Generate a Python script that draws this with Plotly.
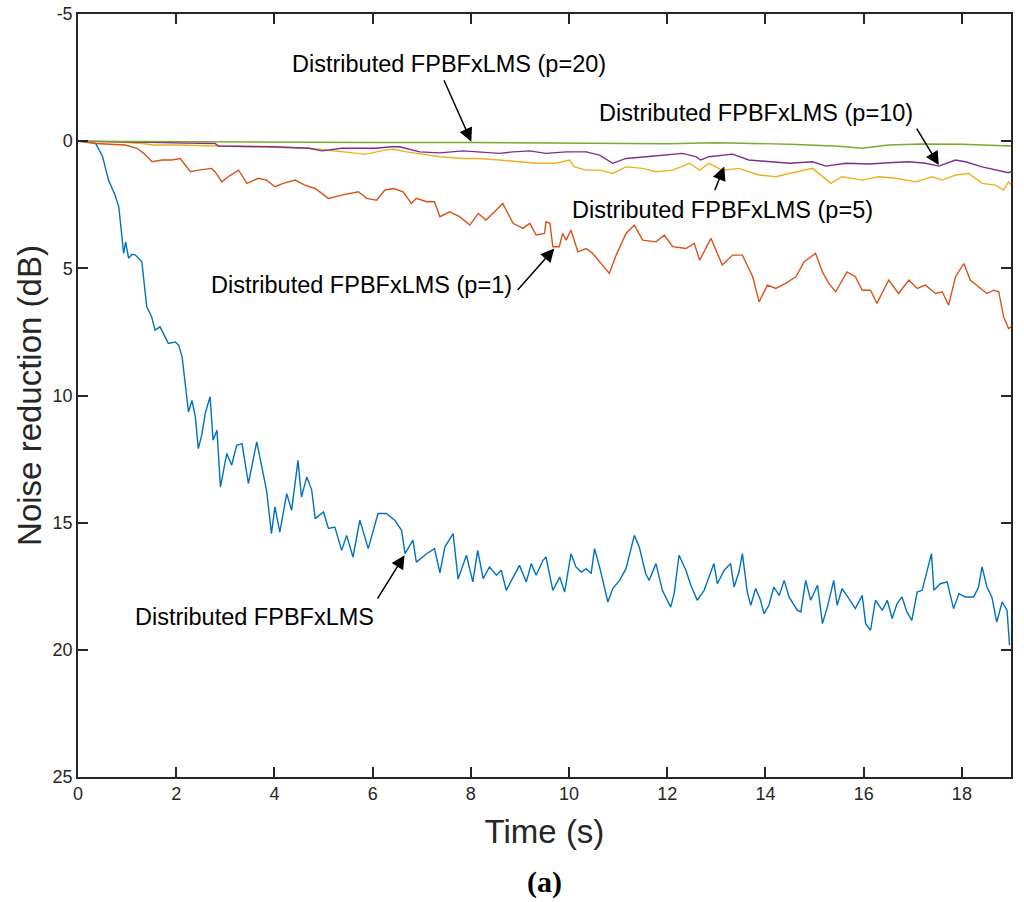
# Noise reduction vs time for distributed FPBFxLMS (different p)
# MATLAB-style line chart, y axis reversed

import plotly.graph_objects as go

# --- data (time in s, noise reduction in dB) ---
base_t = [0, 0.2, 0.36, 0.5, 0.62, 0.75, 0.83, 0.93, 0.97, 1.03, 1.1, 1.17, 1.3, 1.4, 1.5,
          1.57, 1.67, 1.84, 1.98, 2.05, 2.12, 2.18, 2.25, 2.32, 2.39, 2.45, 2.52, 2.59, 2.69,
          2.75, 2.83, 2.9, 3.03, 3.13, 3.23, 3.34, 3.47, 3.64, 3.74, 3.84, 3.94, 4.01, 4.11,
          4.25, 4.35, 4.48, 4.55, 4.66, 4.76, 4.83, 5.0, 5.1, 5.23, 5.37, 5.47, 5.6, 5.74,
          5.91, 6.11, 6.28, 6.45, 6.59, 6.66, 6.82, 6.89, 7.1, 7.26, 7.37, 7.47, 7.64, 7.74,
          7.91, 8.04, 8.14, 8.25, 8.38, 8.52, 8.62, 8.72, 8.86, 8.99, 9.13, 9.23, 9.33, 9.47,
          9.53, 9.67, 9.81, 9.91, 10.04, 10.14, 10.25, 10.35, 10.45, 10.52, 10.63, 10.69,
          10.79, 10.89, 11.03, 11.16, 11.33, 11.43, 11.56, 11.63, 11.77, 11.9, 12.07, 12.14,
          12.24, 12.38, 12.48, 12.61, 12.75, 12.85, 12.95, 13.02, 13.16, 13.29, 13.36, 13.46,
          13.53, 13.63, 13.7, 13.8, 13.9, 13.97, 14.07, 14.17, 14.28, 14.38, 14.48, 14.65,
          14.72, 14.82, 14.92, 15.06, 15.16, 15.26, 15.39, 15.46, 15.56, 15.7, 15.83, 15.97,
          16.04, 16.14, 16.24, 16.38, 16.48, 16.58, 16.68, 16.78, 16.88, 16.98, 17.09, 17.19,
          17.29, 17.38, 17.43, 17.56, 17.7, 17.83, 17.94, 18.07, 18.24, 18.34, 18.41, 18.51,
          18.61, 18.71, 18.82, 18.92, 18.97]
base_db = [0, 0.02, 0.09, 0.6, 1.53, 2.1, 2.58, 4.41, 3.96, 4.6, 4.45, 4.48, 4.74, 6.51, 6.91,
           7.43, 7.3, 7.95, 7.9, 8.02, 8.48, 9.4, 10.65, 10.19, 10.84, 12.09, 11.56, 10.71, 10.05,
           11.76, 11.37, 13.6, 12.28, 12.74, 11.96, 11.89, 13.46, 11.82, 12.81, 13.73, 15.43, 14.38, 15.37,
           13.86, 14.51, 12.55, 13.99, 13.2, 13.73, 14.84, 14.58, 15.23, 15.17, 16.09, 15.5, 16.35, 14.9,
           16.02, 14.64, 14.64, 14.9, 15.3, 16.22, 15.69, 16.55, 16.22, 16.02, 16.97, 15.96, 15.43, 17.22,
           16.28, 17.33, 16.09, 17.2, 16.74, 17.07, 16.87, 17.66, 17.14, 16.68, 17.33, 16.61, 17.07, 16.48,
           16.35, 17.66, 17.14, 17.73, 16.22, 16.74, 16.94, 16.81, 17.0, 16.02, 16.81, 17.27,
           18.12, 17.59, 17.27, 16.81, 15.5, 15.96, 17.0, 17.27, 16.61, 17.66, 18.32, 17.79,
           16.28, 16.87, 17.46, 18.05, 17.66, 17.14, 16.61, 17.4, 16.87, 16.61, 17.53, 16.94,
           16.22, 17.73, 18.25, 17.59, 18.05, 18.58, 18.25, 17.53, 17.86, 17.27, 17.92, 18.45,
           18.51, 17.27, 18.05, 17.46, 18.97, 18.32, 17.27, 18.25, 17.59, 17.99, 18.38, 17.86,
           18.97, 19.23, 18.05, 18.45, 18.05, 18.77, 18.18, 17.92, 18.51, 18.84, 17.73, 17.66,
           16.87, 16.22, 17.66, 17.4, 17.33, 18.38, 17.79, 17.92, 17.92, 17.53, 16.74, 17.53,
           17.92, 18.91, 18.12, 18.45, 19.82]

p1_t = [0, 0.36, 0.96, 1.2, 1.34, 1.51, 1.71, 1.91, 2.08, 2.29, 2.45, 2.72, 2.79, 2.93, 3.06,
        3.27, 3.44, 3.67, 3.84, 4.01, 4.18, 4.42, 4.62, 4.83, 5.1, 5.37, 5.71, 5.88, 6.08, 6.25,
        6.43, 6.62, 6.79, 6.89, 7.1, 7.26, 7.37, 7.57, 7.77, 7.98, 8.15, 8.31, 8.48, 8.65, 8.86,
        9.06, 9.2, 9.33, 9.5, 9.53, 9.61, 9.67, 9.8, 9.87, 9.94, 10.04, 10.18, 10.35, 10.48,
        10.65, 10.82, 10.96, 11.16, 11.33, 11.5, 11.77, 11.94, 12.11, 12.38, 12.55, 12.66,
        12.89, 13.12, 13.33, 13.53, 13.74, 13.87, 14.04, 14.21, 14.41, 14.62, 14.79, 15.02,
        15.16, 15.29, 15.43, 15.66, 15.83, 15.97, 16.14, 16.27, 16.51, 16.71, 16.92, 17.09,
        17.26, 17.46, 17.6, 17.73, 17.87, 18.04, 18.17, 18.34, 18.51, 18.65, 18.75, 18.85,
        18.95, 19.0]
p1_db = [0, 0.09, 0.15, 0.28, 0.48, 0.81, 0.74, 0.74, 0.68, 1.2, 1.14, 1.07, 1.2, 1.6, 1.4,
         1.14, 1.66, 1.46, 1.53, 1.79, 1.66, 1.53, 1.73, 1.86, 2.25, 2.12, 1.99, 2.25, 2.32, 1.92,
         1.86, 1.99, 2.45, 2.25, 2.38, 2.38, 2.97, 2.78, 2.97, 3.3, 2.84, 3.1, 2.78, 2.45, 3.23,
         3.43, 3.23, 3.69, 3.63, 3.17, 3.23, 4.15, 4.15, 3.63, 3.89, 3.5, 4.35, 4.22, 4.41,
         4.81, 5.2, 4.48, 3.63, 3.3, 3.89, 3.96, 3.69, 4.15, 4.22, 4.02, 4.68,
         3.82, 4.87, 4.48, 4.48, 5.33, 6.32, 5.66, 5.79, 5.59, 5.33, 4.74, 4.41,
         5.14, 5.59, 5.92, 5.14, 5.33, 5.86, 5.86, 6.38, 5.46, 5.99, 5.46, 5.79,
         5.66, 5.99, 5.92, 6.45, 5.33, 4.81, 5.46, 5.73, 5.99, 5.86, 5.92, 6.91,
         7.37, 7.3]

p5_t = [0, 1.0, 1.4, 1.51, 2.0, 2.86, 3.88, 4.7, 5.7, 5.85, 6.25, 6.42, 6.69, 7.37, 7.84,
        8.18, 8.58, 8.99, 9.33, 9.74, 10.01, 10.11, 10.35, 10.63, 10.89, 11.16, 11.5, 11.77,
        12.11, 12.45, 12.66, 12.85, 13.12, 13.46, 13.87, 14.21, 14.48, 14.96, 15.16, 15.33,
        15.56, 15.97, 16.31, 16.65, 17.06, 17.39, 17.6, 17.87, 18.14, 18.41, 18.68, 18.85,
        18.95, 19.0]
p5_db = [0, 0.05, 0.11, 0.15, 0.15, 0.19, 0.22, 0.28, 0.48, 0.52, 0.35, 0.32, 0.42, 0.61, 0.68,
         0.68, 0.74, 0.81, 0.87, 0.87, 0.74, 1.01, 1.14, 1.14, 1.27, 1.01, 1.07, 1.2,
         1.14, 0.87, 1.14, 0.87, 1.14, 1.07, 1.33, 1.4, 1.27, 1.07, 1.4, 1.66,
         1.4, 1.53, 1.4, 1.46, 1.6, 1.4, 1.53, 1.33, 1.27, 1.66, 1.73, 1.92,
         1.6, 1.7]

p10_t = [0, 2.79, 2.86, 3.99, 4.7, 4.97, 5.37, 6.05, 6.4, 6.55, 6.96, 7.37, 7.84, 8.18, 8.58,
         8.86, 9.2, 9.53, 9.94, 10.35, 10.62, 10.89, 11.16, 11.57, 11.97, 12.31, 12.58, 12.68,
         12.85, 13.33, 13.66, 14.07, 14.48, 14.96, 15.23, 15.64, 16.11, 16.51, 16.92, 17.26,
         17.53, 17.87, 18.07, 18.41, 18.75, 18.95, 19.0]
p10_db = [0, 0.09, 0.19, 0.22, 0.28, 0.38, 0.28, 0.28, 0.22, 0.22, 0.42, 0.46, 0.38, 0.42, 0.48,
          0.42, 0.38, 0.48, 0.42, 0.42, 0.55, 0.87, 0.68, 0.61, 0.55, 0.48, 0.61, 0.74,
          0.61, 0.51, 0.74, 0.81, 0.87, 0.81, 0.98, 0.87, 0.9, 0.85, 0.81, 0.87,
          0.98, 0.74, 0.81, 1.01, 1.14, 1.24, 1.2]

p20_t = [0, 2, 4, 6, 8, 10, 12, 13, 14, 14.5, 15.5, 15.97, 16.5, 17.2, 18, 19]
p20_db = [0, 0.02, 0.05, 0.05, 0.05, 0.08, 0.1, 0.06, 0.1, 0.12, 0.2, 0.28, 0.15, 0.11, 0.12, 0.19]

series = [
    (base_t, base_db, "#0072BD"),
    (p1_t, p1_db, "#D95319"),
    (p5_t, p5_db, "#EDB120"),
    (p10_t, p10_db, "#7E2F8E"),
    (p20_t, p20_db, "#77AC30"),
]

x_ticks = [0, 2, 4, 6, 8, 10, 12, 14, 16, 18]
y_ticks = [-5, 0, 5, 10, 15, 20, 25]
y_ticktext = ["-5", "0", "5", "10", "15", "20", "25"]

# label text, arrow tip (data), arrow tail offset (px), label centre (data)
labels = [
    ("Distributed FPBFxLMS (p=20)", 8.01, 0.02, -28, -63, 7.55, -3.03),
    ("Distributed FPBFxLMS (p=10)", 17.53, 0.94, -23, -38, 13.81, -1.1),
    ("Distributed FPBFxLMS (p=5)", 13.16, 1.0, -10, 25, 13.12, 2.72),
    ("Distributed FPBFxLMS (p=1)", 9.7, 4.22, -38, 43, 5.78, 5.66),
    ("Distributed FPBFxLMS", 6.65, 16.28, -28, 45, 3.59, 18.72),
]

FONT = "Liberation Sans, Arial, sans-serif"

fig = go.Figure()
for t, db, col in series:
    fig.add_trace(go.Scatter(x=t, y=db, mode="lines",
                             line=dict(color=col, width=1.4), showlegend=False))

for txt, tx, ty, ax, ay, lx, ly in labels:
    # arrow only
    fig.add_annotation(x=tx, y=ty, ax=ax, ay=ay, text="", showarrow=True,
                       arrowhead=2, arrowsize=1.8, arrowwidth=1.5, arrowcolor="black",
                       standoff=0, startstandoff=0)
    # label text
    fig.add_annotation(x=lx, y=ly, text=txt, showarrow=False,
                       font=dict(family=FONT, size=23.5, color="black"))

fig.add_annotation(x=0.5, y=-0.138, xref="paper", yref="paper", yanchor="middle",
                   text="<b>(a)</b>", showarrow=False,
                   font=dict(family="Liberation Serif, serif", size=30, color="black"))

axis_style = dict(showline=True, linecolor="#262626", linewidth=1.5, mirror="ticks",
                  ticks="inside", ticklen=10, tickwidth=1.5, tickcolor="#262626",
                  showgrid=False, zeroline=False, automargin=False,
                  tickfont=dict(family=FONT, size=18, color="#262626"))

fig.update_xaxes(range=[0, 19], tickvals=x_ticks,
                 title=dict(text="Time (s)", standoff=17,
                            font=dict(family=FONT, size=33, color="#262626")),
                 **axis_style)
fig.update_yaxes(range=[25, -5], tickvals=y_ticks, ticktext=y_ticktext,
                 title=dict(text="Noise reduction (dB)", standoff=1,
                            font=dict(family=FONT, size=33, color="#262626")),
                 **axis_style)

fig.update_layout(width=1024, height=902,
                  margin=dict(l=78, r=13, t=14, b=125),
                  plot_bgcolor="white", paper_bgcolor="white")

# drop the default 8px body margin so the figure sits at the page corner
fig.write_html("out.html", config={"displayModeBar": False},
               post_script="document.body.style.margin='0';")
